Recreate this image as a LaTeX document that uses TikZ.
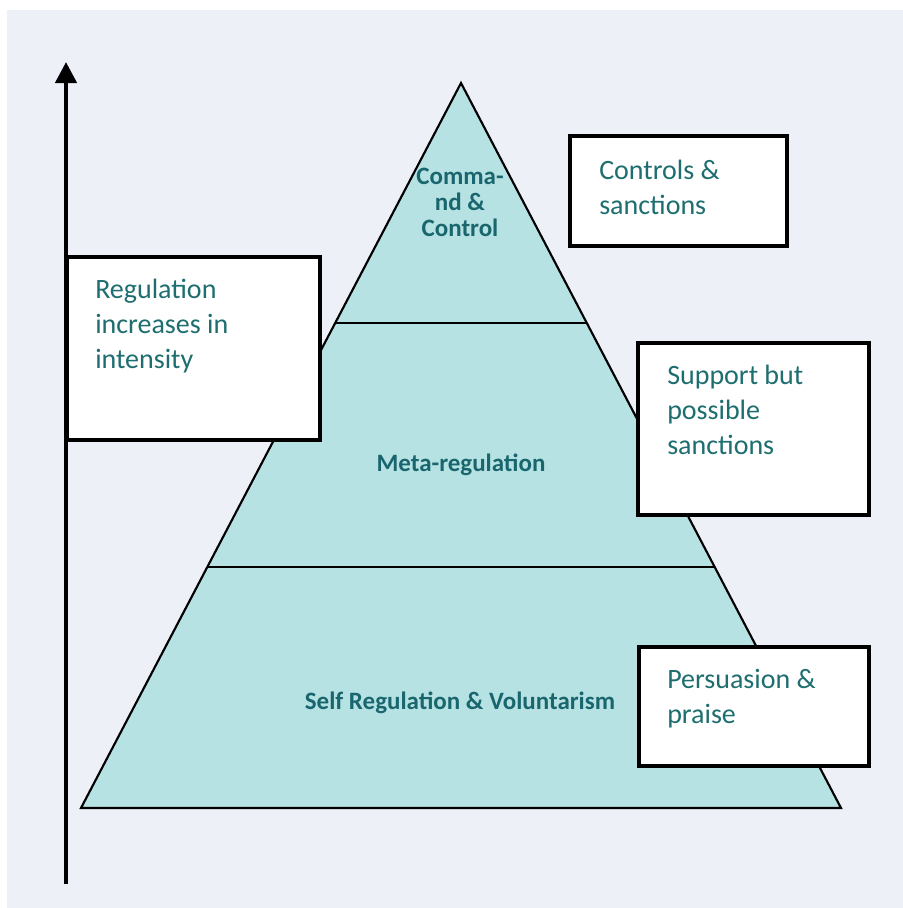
\documentclass[tikz,border=0pt]{standalone}
\usepackage{fontspec}
\setmainfont{Carlito}
\usetikzlibrary{arrows.meta}
\definecolor{pyrfill}{RGB}{183,226,227}
\definecolor{bgcol}{RGB}{237,241,247}
\definecolor{boxtextcol}{RGB}{30,110,112}
\definecolor{labelcol}{RGB}{26,102,110}

\begin{document}
\begin{tikzpicture}[x=0.75pt,y=0.75pt,yscale=-1,xscale=1,
  box/.style={draw=black, line width=2.4pt, fill=white, anchor=north west, inner sep=0pt, outer sep=0pt},
  boxtext/.style={anchor=base west, inner sep=0pt, align=left, text=boxtextcol, font=\fontsize{21}{26.25}\selectfont},
  pyrlabel/.style={anchor=base, inner sep=0pt, align=center, text=labelcol, font=\bfseries\fontsize{18.75}{19.5}\selectfont}]
%set diagram size 903 x 908
\useasboundingbox (0,0) rectangle (903,908);

%Shape: Rectangle (background)
\fill [white] (0,0) rectangle (903,908);
\fill [bgcol] (7,10) rectangle (903,908);

%Shape: Triangle
\draw [line width=1.6pt, fill=pyrfill] (461,83) -- (841,808) -- (81,808) -- cycle ;
%Straight Lines
\draw [line width=2.2pt] (335.5,323) -- (586.5,323) ;
%Straight Lines
\draw [line width=2.2pt] (208,567) -- (714,567) ;

% Text Node (base = last line)
\node [pyrlabel] (cmdlabel) at (460,236) {Comma-\\nd \&\\Control};
% Text Node
\node [pyrlabel] (metalabel) at (461,471) {Meta-regulation};
% Text Node
\node [pyrlabel] (selflabel) at (460,709) {Self Regulation \& Voluntarism};

%Straight Lines (axis)
\coordinate (axisbot) at (66,884);
\coordinate (axistop) at (66,62);
\draw [line width=3.3pt, -{Triangle[width=15.75pt,length=15.75pt]}] (axisbot) -- (axistop) ;

%Shape: Rectangle
\node [box, minimum width=189.75pt, minimum height=137.25pt] (intensitybox) at (67,257) {};
% Text Node
\node [boxtext] (intensitytext) at ([shift={(28,111)}]intensitybox.north west) {Regulation\\increases in\\intensity};

%Shape: Rectangle
\node [box, minimum width=162.75pt, minimum height=82.5pt] (controlsbox) at (570,136) {};
% Text Node
\node [boxtext] (controlstext) at ([shift={(29,78)}]controlsbox.north west) {Controls \&\\sanctions};

%Shape: Rectangle
\node [box, minimum width=173.25pt, minimum height=129pt] (supportbox) at (638,343) {};
% Text Node
\node [boxtext] (supporttext) at ([shift={(29,111)}]supportbox.north west) {Support but\\possible\\sanctions};

%Shape: Rectangle
\node [box, minimum width=172.5pt, minimum height=89.25pt] (persuasionbox) at (639,647) {};
% Text Node
\node [boxtext] (persuasiontext) at ([shift={(28,76)}]persuasionbox.north west) {Persuasion \&\\praise};

\end{tikzpicture}
\end{document}
